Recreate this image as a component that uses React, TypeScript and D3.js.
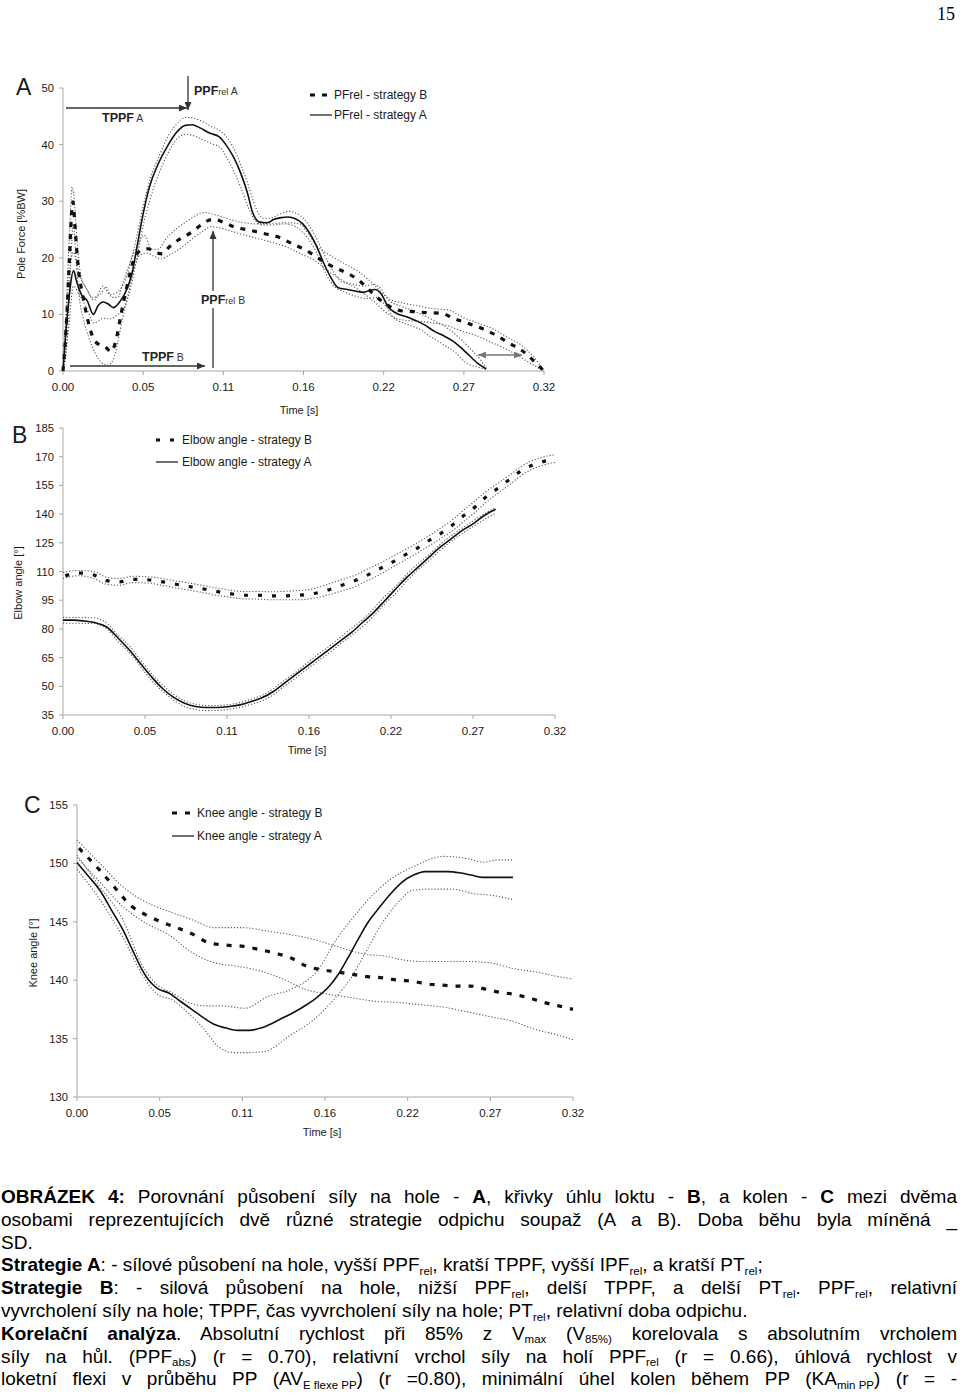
import React, { useLayoutEffect, useRef } from "react";
import * as d3 from "d3";

type P = [number, number];

// ---------- shared ----------
const timeTickLabels = ["0.00", "0.05", "0.11", "0.16", "0.22", "0.27", "0.32"];
const T_MAX = 0.325;

// ---------- Panel A: pole force [%BW] ----------
const forceTicks = [0, 10, 20, 30, 40, 50];
const forceA: P[] = [
  [0, 0], [0.003, 10], [0.0072, 17.7], [0.0091, 15.9], [0.0123, 13.6], [0.0164, 12.4], [0.0205, 10.0],
  [0.0236, 11.5], [0.0272, 12.2], [0.0308, 11.8], [0.034, 11.2], [0.038, 12.1], [0.0416, 13.6],
  [0.0465, 17.1], [0.05, 21.9], [0.0537, 27.2], [0.0585, 32.6], [0.0645, 36.7], [0.0705, 39.7],
  [0.0765, 42.1], [0.0826, 43.4], [0.0874, 43.5], [0.0922, 43.0], [0.0994, 42.0], [0.1054, 41.4],
  [0.11, 40.0], [0.115, 37.9], [0.12, 35.0], [0.1247, 31.4], [0.128, 28.1], [0.133, 26.3],
  [0.138, 26.2], [0.1427, 26.8], [0.1476, 27.1], [0.152, 27.2], [0.157, 26.9], [0.162, 26.0],
  [0.1668, 24.3], [0.1716, 21.9], [0.1764, 18.9], [0.181, 16.5], [0.186, 14.7], [0.192, 14.4],
  [0.198, 14.1], [0.203, 13.9], [0.2077, 14.3], [0.211, 14.4], [0.215, 13.6], [0.22, 11.2],
  [0.2246, 10.3], [0.234, 9.4], [0.244, 8.2], [0.251, 7.0], [0.258, 6.1], [0.2655, 4.9],
  [0.2727, 3.2], [0.28, 1.4], [0.286, 0.36],
];
const forceAUpper: P[] = [
  [0, 0], [0.003, 13], [0.007, 21], [0.011, 17], [0.016, 14.5], [0.021, 12.5], [0.027, 15], [0.032, 13.5],
  [0.037, 14], [0.042, 16], [0.046, 19.5], [0.05, 24], [0.054, 29], [0.059, 34], [0.065, 38], [0.071, 41.5],
  [0.077, 43.7], [0.083, 44.8], [0.089, 44.6], [0.095, 44], [0.1, 43.2], [0.106, 42.5], [0.11, 41.5],
  [0.115, 39.5], [0.12, 36.5], [0.125, 33], [0.13, 29], [0.135, 27], [0.14, 27], [0.147, 27.8],
  [0.153, 28.2], [0.158, 27.8], [0.163, 26.8], [0.168, 25], [0.173, 22.5], [0.178, 19.8], [0.183, 17.5],
  [0.188, 15.8], [0.195, 15.4], [0.203, 15], [0.21, 15.3], [0.215, 14.5], [0.22, 12.5], [0.228, 11.5],
  [0.238, 10.5], [0.25, 9], [0.26, 7.5], [0.268, 5.8], [0.275, 4], [0.282, 2], [0.286, 0.5],
];
const forceALower: P[] = [
  [0, 0], [0.004, 8], [0.007, 15], [0.011, 13.5], [0.016, 11], [0.021, 8.5], [0.027, 9.3], [0.032, 9.2],
  [0.037, 10], [0.042, 11.5], [0.046, 15], [0.05, 20], [0.054, 25.5], [0.059, 30.5], [0.065, 35],
  [0.071, 38.5], [0.077, 41], [0.083, 41.8], [0.089, 41.5], [0.095, 40.8], [0.1, 40.2], [0.106, 39.5],
  [0.11, 38], [0.115, 35.5], [0.12, 32.5], [0.125, 29], [0.13, 26.5], [0.135, 25.8], [0.142, 25.8],
  [0.15, 26], [0.157, 25.5], [0.162, 24.5], [0.168, 22.5], [0.173, 20], [0.178, 17], [0.183, 15],
  [0.19, 14], [0.198, 13.2], [0.205, 12.8], [0.212, 13], [0.218, 11.5], [0.223, 9.5], [0.23, 8.5],
  [0.24, 7.5], [0.25, 5.8], [0.258, 4.5], [0.265, 3.3], [0.272, 1.5], [0.28, 0.7], [0.286, 0.3],
];
const forceB: P[] = [
  [0, 0], [0.0014, 4.6], [0.0026, 10], [0.0043, 19.5], [0.0055, 26.6], [0.0067, 29.9], [0.008, 26],
  [0.0091, 21.9], [0.0108, 17.1], [0.0132, 13.6], [0.0164, 9.4], [0.0205, 5.8], [0.0248, 4.6],
  [0.0284, 4.3], [0.0325, 3.4], [0.0356, 5.2], [0.0392, 10], [0.043, 14.7], [0.0477, 19.5],
  [0.0525, 21.3], [0.0573, 21.6], [0.062, 21], [0.067, 20.7], [0.0717, 21.9], [0.0777, 23.1],
  [0.0838, 24], [0.0898, 25.1], [0.0958, 26.3], [0.1018, 26.8], [0.109, 26.2], [0.1163, 25.4],
  [0.1259, 24.9], [0.1355, 24.3], [0.1451, 23.7], [0.1548, 22.5], [0.1644, 21.3], [0.1716, 20.1],
  [0.1788, 18.9], [0.186, 18], [0.1933, 17.1], [0.2005, 15.9], [0.2077, 14.1], [0.215, 12.4],
  [0.2222, 11.2], [0.2294, 10.6], [0.2366, 10.5], [0.2462, 10.3], [0.2559, 10.2], [0.263, 9.4],
  [0.2727, 8.5], [0.2823, 7.6], [0.292, 6.4], [0.3016, 4.9], [0.3112, 3.4], [0.3184, 1.7], [0.325, 0],
];
const forceBUpper: P[] = [
  [0, 0], [0.002, 10], [0.0045, 25], [0.0062, 32.5], [0.008, 29], [0.0095, 23], [0.012, 17], [0.016, 14.5],
  [0.02, 13], [0.025, 13.5], [0.029, 14.8], [0.033, 13], [0.037, 13], [0.041, 16], [0.045, 19], [0.05, 22],
  [0.055, 24], [0.06, 21.5], [0.064, 21.5], [0.07, 23.5], [0.077, 25.2], [0.084, 26.5], [0.09, 27.5],
  [0.096, 28], [0.1, 27.8], [0.11, 27], [0.12, 26.3], [0.13, 26], [0.14, 26], [0.15, 26.2], [0.16, 26],
  [0.165, 24.5], [0.172, 22], [0.18, 20.5], [0.19, 19], [0.2, 17.5], [0.207, 16], [0.213, 14.5],
  [0.22, 12.8], [0.23, 12], [0.24, 11.5], [0.25, 11], [0.26, 10.8], [0.27, 9.5], [0.28, 8.5], [0.29, 7.5],
  [0.3, 6], [0.31, 4.5], [0.318, 2.5], [0.325, 0],
];
const forceBLower: P[] = [
  [0, 0], [0.003, 6], [0.005, 18], [0.007, 26], [0.009, 19], [0.011, 13], [0.014, 9], [0.018, 5.5],
  [0.022, 3], [0.026, 1.5], [0.03, 1], [0.034, 2], [0.037, 5], [0.04, 9], [0.044, 13.5], [0.048, 18],
  [0.052, 20.5], [0.057, 20.8], [0.062, 20.2], [0.066, 19.8], [0.072, 20.5], [0.08, 21.8], [0.088, 23.5],
  [0.095, 24.8], [0.1, 25.5], [0.11, 25], [0.12, 24.2], [0.13, 23.5], [0.14, 22.8], [0.15, 22],
  [0.16, 20.8], [0.17, 19.5], [0.18, 17.5], [0.19, 15.8], [0.2, 14.3], [0.21, 12.3], [0.22, 10],
  [0.23, 9], [0.24, 8.8], [0.25, 8.5], [0.26, 8], [0.27, 7], [0.28, 6.2], [0.29, 5], [0.3, 3.8],
  [0.31, 2.3], [0.318, 1], [0.325, 0],
];

// ---------- Panel B: elbow angle [deg] ----------
const elbowTicks = [35, 50, 65, 80, 95, 110, 125, 140, 155, 170, 185];
const elbowA: P[] = [
  [0, 84.6], [0.0069, 84.6], [0.0142, 84.1], [0.0215, 83.2], [0.0289, 81], [0.0362, 75.4], [0.0436, 69.2],
  [0.0509, 62.2], [0.0582, 55.2], [0.0656, 49], [0.0729, 44.3], [0.0803, 41.1], [0.0876, 39.4],
  [0.095, 38.9], [0.1023, 38.9], [0.1096, 39.4], [0.117, 40.3], [0.1243, 42], [0.1317, 44.1],
  [0.139, 47.3], [0.1463, 51.7], [0.1537, 56.1], [0.161, 60.4], [0.1684, 64.8], [0.1757, 69.2],
  [0.183, 73.6], [0.1904, 78], [0.1977, 83.2], [0.2051, 88.5], [0.2124, 94.6], [0.2197, 100.8],
  [0.2271, 106.9], [0.2344, 112.2], [0.2418, 117.5], [0.2491, 122.7], [0.2564, 127.1], [0.2638, 131.5],
  [0.2711, 135], [0.2785, 139.4], [0.2858, 142.5],
];
const elbowAUpper: P[] = [
  [0, 86], [0.02, 85.8], [0.029, 83], [0.036, 77], [0.044, 71], [0.051, 64], [0.058, 57], [0.066, 50.5],
  [0.073, 45.8], [0.08, 42.5], [0.088, 40.6], [0.095, 40], [0.102, 40], [0.11, 40.5], [0.117, 41.5],
  [0.124, 43.2], [0.132, 45.5], [0.139, 48.8], [0.146, 53], [0.154, 57.5], [0.161, 62], [0.168, 66.5],
  [0.176, 71], [0.183, 75.5], [0.19, 80], [0.198, 85], [0.205, 90.5], [0.212, 96.5], [0.22, 102.5],
  [0.227, 108.5], [0.234, 113.8], [0.242, 119], [0.249, 124], [0.256, 128.5], [0.264, 132.8],
  [0.271, 136.5], [0.279, 140.5], [0.286, 143.5],
];
const elbowALower: P[] = [
  [0, 83], [0.02, 82.8], [0.029, 80], [0.036, 73.8], [0.044, 67.5], [0.051, 60.5], [0.058, 53.5],
  [0.066, 47.3], [0.073, 42.8], [0.08, 39.5], [0.088, 37.8], [0.095, 37.3], [0.102, 37.4], [0.11, 38],
  [0.117, 39], [0.124, 40.5], [0.132, 42.6], [0.139, 45.6], [0.146, 50], [0.154, 54.5], [0.161, 58.8],
  [0.168, 63], [0.176, 67.5], [0.183, 72], [0.19, 76.3], [0.198, 81.3], [0.205, 86.5], [0.212, 92.7],
  [0.22, 98.8], [0.227, 105], [0.234, 110.5], [0.242, 115.8], [0.249, 121], [0.256, 125.5], [0.264, 130],
  [0.271, 133.5], [0.279, 137.5], [0.286, 140.5],
];
const elbowB: P[] = [
  [0.0015, 107.8], [0.0105, 109.2], [0.0203, 108.2], [0.0289, 105.2], [0.0374, 104.6], [0.046, 105.9],
  [0.0558, 105.7], [0.0644, 104.8], [0.0741, 103.4], [0.0827, 102.2], [0.0913, 101.1], [0.1011, 99.6],
  [0.1096, 98.5], [0.1194, 97.6], [0.128, 97.6], [0.1378, 97.3], [0.1463, 97.3], [0.1549, 97.6],
  [0.1635, 98.2], [0.1733, 99.9], [0.1818, 102.2], [0.1916, 104.8], [0.2002, 107.8], [0.2088, 111.3],
  [0.2173, 114.8], [0.2259, 118.7], [0.2344, 122.4], [0.2418, 126.2], [0.2503, 130.3], [0.2577, 134.6],
  [0.265, 139.4], [0.2724, 143.8], [0.279, 148.7], [0.2871, 153.4], [0.2945, 157.8], [0.3018, 162.2],
  [0.3104, 165.7], [0.319, 167.8], [0.325, 168.7],
];
const elbowBUpper: P[] = [
  [0, 109.5], [0.01, 110.5], [0.02, 110], [0.029, 107], [0.037, 106.3], [0.046, 107.5], [0.056, 107.3],
  [0.064, 106.5], [0.074, 105.2], [0.083, 104], [0.091, 102.9], [0.101, 101.4], [0.11, 100.3],
  [0.119, 99.5], [0.128, 99.6], [0.138, 99.4], [0.146, 99.6], [0.155, 100], [0.164, 100.8],
  [0.173, 102.8], [0.182, 105.2], [0.192, 107.8], [0.2, 110.8], [0.209, 114.2], [0.217, 117.6],
  [0.226, 121.4], [0.234, 125], [0.242, 128.8], [0.25, 133], [0.258, 137.5], [0.265, 142.3],
  [0.272, 146.8], [0.279, 151.5], [0.287, 156], [0.295, 160.3], [0.302, 164.5], [0.31, 168],
  [0.319, 170.2], [0.325, 171],
];
const elbowBLower: P[] = [
  [0, 106.3], [0.01, 107.8], [0.02, 106.5], [0.029, 103.3], [0.037, 102.8], [0.046, 104.2], [0.056, 104],
  [0.064, 103], [0.074, 101.5], [0.083, 100.3], [0.091, 99.2], [0.101, 97.6], [0.11, 96.6], [0.119, 95.7],
  [0.128, 95.6], [0.138, 95.2], [0.146, 95.2], [0.155, 95.2], [0.164, 95.8], [0.173, 97.3], [0.182, 99.3],
  [0.192, 101.8], [0.2, 104.8], [0.209, 108.3], [0.217, 112], [0.226, 116], [0.234, 119.7],
  [0.242, 123.5], [0.25, 127.5], [0.258, 131.7], [0.265, 136.3], [0.272, 140.8], [0.279, 145.8],
  [0.287, 150.8], [0.295, 155.3], [0.302, 159.8], [0.31, 163.5], [0.319, 166], [0.325, 167],
];

// ---------- Panel C: knee angle [deg] ----------
const kneeTicks = [130, 135, 140, 145, 150, 155];
const kneeA: P[] = [
  [0, 150.07], [0.0075, 148.9], [0.015, 147.7], [0.0226, 146.0], [0.0301, 144.3], [0.0363, 142.6],
  [0.0426, 140.9], [0.0476, 139.9], [0.0526, 139.3], [0.0601, 138.9], [0.0677, 138.2], [0.0752, 137.5],
  [0.0827, 136.8], [0.0902, 136.2], [0.0977, 135.9], [0.1052, 135.7], [0.1128, 135.7], [0.1203, 135.9],
  [0.1278, 136.3], [0.1353, 136.8], [0.1428, 137.3], [0.1504, 137.9], [0.1579, 138.6], [0.1654, 139.5],
  [0.1717, 140.6], [0.1779, 142.0], [0.1842, 143.5], [0.1904, 144.9], [0.198, 146.2], [0.2055, 147.4],
  [0.213, 148.4], [0.2205, 149.0], [0.228, 149.3], [0.2355, 149.3], [0.2431, 149.3], [0.2506, 149.2],
  [0.2581, 149.0], [0.2656, 148.8], [0.2731, 148.8], [0.2857, 148.8],
];
const kneeAUpper: P[] = [
  [0, 150.7], [0.015, 148], [0.03, 145.2], [0.0426, 141.3], [0.0526, 139.6], [0.0626, 138.9],
  [0.075, 138.0], [0.085, 137.8], [0.095, 137.8], [0.11, 137.6], [0.125, 138.6], [0.14, 139.2],
  [0.158, 140.9], [0.17, 143.5], [0.183, 145.7], [0.193, 147.2], [0.205, 148.6], [0.22, 149.7],
  [0.24, 150.6], [0.256, 150.4], [0.266, 150.1], [0.276, 150.3], [0.286, 150.3],
];
const kneeALower: P[] = [
  [0, 149.5], [0.015, 146.9], [0.03, 143.7], [0.0426, 140.5], [0.0526, 138.8], [0.0626, 138.3],
  [0.0727, 137.2], [0.0827, 135.9], [0.0927, 134.3], [0.1027, 133.8], [0.1128, 133.8], [0.123, 133.9],
  [0.14, 135.3], [0.155, 136.6], [0.168, 138.3], [0.18, 140.3], [0.19, 142.6], [0.2, 144.9],
  [0.21, 146.6], [0.22, 147.7], [0.23, 147.8], [0.2456, 147.8], [0.26, 147.4], [0.27, 147.3], [0.2857, 146.9],
];
const kneeB: P[] = [
  [0.0013, 151.3], [0.015, 149.4], [0.025, 147.9], [0.0351, 146.4], [0.0451, 145.6], [0.0551, 145.0],
  [0.0652, 144.5], [0.0764, 143.9], [0.0865, 143.2], [0.0977, 143.0], [0.109, 142.9], [0.1203, 142.6],
  [0.1303, 142.3], [0.1403, 141.9], [0.1504, 141.2], [0.1604, 140.9], [0.1704, 140.7], [0.1804, 140.5],
  [0.1904, 140.3], [0.2005, 140.2], [0.2105, 140.0], [0.2205, 139.9], [0.228, 139.7], [0.238, 139.6],
  [0.248, 139.5], [0.2581, 139.5], [0.2656, 139.3], [0.2756, 139.0], [0.2857, 138.8], [0.2957, 138.5],
  [0.3057, 138.1], [0.3157, 137.8], [0.325, 137.5],
];
const kneeBUpper: P[] = [
  [0, 152], [0.015, 150.0], [0.03, 148.0], [0.045, 146.7], [0.06, 145.9], [0.075, 145.2], [0.09, 144.5],
  [0.108, 144.5], [0.125, 144.2], [0.14, 143.9], [0.155, 143.5], [0.17, 142.9], [0.19, 142.2],
  [0.2, 142.1], [0.2155, 141.7], [0.2255, 141.6], [0.24, 141.6], [0.2556, 141.6], [0.27, 141.5],
  [0.2857, 141.0], [0.3007, 140.7], [0.3157, 140.3], [0.325, 140.1],
];
const kneeBLower: P[] = [
  [0, 150.5], [0.015, 148.4], [0.03, 146.3], [0.045, 144.9], [0.06, 143.9], [0.075, 142.4], [0.09, 141.5],
  [0.105, 141.2], [0.12, 140.8], [0.135, 140.1], [0.15, 139.2], [0.165, 138.8], [0.18, 138.5],
  [0.195, 138.2], [0.21, 138.1], [0.225, 137.9], [0.24, 137.7], [0.255, 137.3], [0.27, 136.9],
  [0.285, 136.5], [0.3, 135.8], [0.315, 135.3], [0.325, 134.9],
];

// ---------- caption ----------
type Seg = { t: string; b?: boolean; sub?: boolean };
const captionLines: Seg[][] = [
  [{ t: "OBRÁZEK 4:", b: true }, { t: " Porovnání působení síly na hole - " }, { t: "A", b: true },
   { t: ", křivky úhlu loktu - " }, { t: "B", b: true }, { t: ", a kolen - " }, { t: "C", b: true }, { t: " mezi dvěma" }],
  [{ t: "osobami reprezentujících dvě různé strategie odpichu soupaž (A a B). Doba běhu byla míněná _" }],
  [{ t: "SD." }],
  [{ t: "Strategie A", b: true }, { t: ": - sílové působení na hole, vyšší PPF" }, { t: "rel", sub: true },
   { t: ", kratší TPPF, vyšší IPF" }, { t: "rel", sub: true }, { t: ", a kratší PT" }, { t: "rel", sub: true }, { t: ";" }],
  [{ t: "Strategie B", b: true }, { t: ": - silová působení na hole, nižší PPF" }, { t: "rel", sub: true },
   { t: ", delší TPPF, a delší PT" }, { t: "rel", sub: true }, { t: ". PPF" }, { t: "rel", sub: true }, { t: ", relativní" }],
  [{ t: "vyvrcholení síly na hole; TPPF, čas vyvrcholení síly na hole; PT" }, { t: "rel", sub: true },
   { t: ", relativní doba odpichu." }],
  [{ t: "Korelační analýza", b: true }, { t: ". Absolutní rychlost při 85% z V" }, { t: "max", sub: true },
   { t: " (V" }, { t: "85%)", sub: true }, { t: " korelovala s absolutním vrcholem" }],
  [{ t: "síly na hůl. (PPF" }, { t: "abs", sub: true }, { t: ") (r = 0.70), relativní vrchol síly na holí PPF" },
   { t: "rel", sub: true }, { t: " (r = 0.66), úhlová rychlost v" }],
  [{ t: "loketní flexi v průběhu PP (AV" }, { t: "E flexe PP", sub: true }, { t: ") (r =0.80), minimální úhel kolen během PP (KA" },
   { t: "min PP", sub: true }, { t: ") (r = -" }],
];
// target right edge of each caption line (0 = left-aligned, not justified)
const captionWidths = [957, 957, 0, 0, 957, 0, 957, 957, 957];

const FONT = "'Liberation Sans', Arial, Helvetica, sans-serif";
const AXIS_COLOR = "#a8a8a8";
const TEXT_COLOR = "#1a1a1a";

type Band = { mean: P[]; upper: P[]; lower: P[] };
type PanelCfg = {
  letter: string;
  letterPos: [number, number];
  xRange: [number, number];
  yRange: [number, number];
  yDomain: [number, number];
  yTicks: number[];
  yTitle: string;
  yTitlePos: [number, number];
  xTitlePos: [number, number];
  stratA: Band;
  stratB: Band;
  dashB: string;
  legend: { x: number; y1: number; y2: number; textX: number; labelB: string; labelA: string };
};

function Panel({ cfg }: { cfg: PanelCfg }) {
  const x = d3.scaleLinear().domain([0, T_MAX]).range(cfg.xRange);
  const y = d3.scaleLinear().domain(cfg.yDomain).range(cfg.yRange);
  const line = d3
    .line<P>()
    .x((d) => x(d[0]))
    .y((d) => y(d[1]))
    .curve(d3.curveMonotoneX);
  const xTicks = timeTickLabels.map((_, i) => (i * T_MAX) / (timeTickLabels.length - 1));
  const [x0, x1] = cfg.xRange;
  const yBase = cfg.yRange[0];
  const dotted = { fill: "none", stroke: "#5a5a5a", strokeWidth: 1.1, strokeDasharray: "1.2,1.9" };
  const lg = cfg.legend;
  return (
    <g>
      <text x={cfg.letterPos[0]} y={cfg.letterPos[1]} fontSize={23} fontFamily={FONT} fill={TEXT_COLOR}>
        {cfg.letter}
      </text>
      {/* axes */}
      <line x1={x0} x2={x0} y1={cfg.yRange[1]} y2={yBase} stroke={AXIS_COLOR} strokeWidth={1} />
      <line x1={x0} x2={x1} y1={yBase} y2={yBase} stroke={AXIS_COLOR} strokeWidth={1} />
      {cfg.yTicks.map((v) => (
        <g key={"yt" + v}>
          <line x1={x0 - 4} x2={x0} y1={y(v)} y2={y(v)} stroke={AXIS_COLOR} />
          <text x={x0 - 9} y={y(v) + 4} textAnchor="end" fontSize={11.2} fontFamily={FONT} fill={TEXT_COLOR}>
            {v}
          </text>
        </g>
      ))}
      {xTicks.map((t, i) => (
        <g key={"xt" + i}>
          <line x1={x(t)} x2={x(t)} y1={yBase} y2={yBase + 4} stroke={AXIS_COLOR} />
          <text x={x(t)} y={yBase + 20} textAnchor="middle" fontSize={11.5} fontFamily={FONT} fill={TEXT_COLOR}>
            {timeTickLabels[i]}
          </text>
        </g>
      ))}
      <text x={cfg.xTitlePos[0]} y={cfg.xTitlePos[1]} textAnchor="middle" fontSize={11} fontFamily={FONT} fill={TEXT_COLOR}>
        Time [s]
      </text>
      <text
        transform={`translate(${cfg.yTitlePos[0]},${cfg.yTitlePos[1]}) rotate(-90)`}
        textAnchor="middle"
        fontSize={11}
        fontFamily={FONT}
        fill={TEXT_COLOR}
        dy={4}
      >
        {cfg.yTitle}
      </text>
      {/* SD bands */}
      <path d={line(cfg.stratB.upper) || ""} {...dotted} />
      <path d={line(cfg.stratB.lower) || ""} {...dotted} />
      <path d={line(cfg.stratA.upper) || ""} {...dotted} />
      <path d={line(cfg.stratA.lower) || ""} {...dotted} />
      {/* means */}
      <path d={line(cfg.stratA.mean) || ""} fill="none" stroke="#111" strokeWidth={1.6} />
      <path d={line(cfg.stratB.mean) || ""} fill="none" stroke="#111" strokeWidth={3.2} strokeDasharray={cfg.dashB} />
      {/* legend */}
      <line x1={lg.x} x2={lg.x + 19} y1={lg.y1} y2={lg.y1} stroke="#111" strokeWidth={3.2} strokeDasharray={cfg.dashB} />
      <text x={lg.textX} y={lg.y1 + 4} fontSize={12} fontFamily={FONT} fill={TEXT_COLOR}>
        {lg.labelB}
      </text>
      <line x1={lg.x} x2={lg.x + 22} y1={lg.y2} y2={lg.y2} stroke="#111" strokeWidth={1.2} />
      <text x={lg.textX} y={lg.y2 + 4} fontSize={12} fontFamily={FONT} fill={TEXT_COLOR}>
        {lg.labelA}
      </text>
    </g>
  );
}

function Caption() {
  const baseY = 1203;
  const lh = 22.8;
  const left = 1;
  const refs = useRef<(SVGTextElement | null)[]>([]);
  useLayoutEffect(() => {
    captionLines.forEach((segs, li) => {
      const el = refs.current[li];
      const target = captionWidths[li];
      if (!el || !target) return;
      el.style.wordSpacing = "0px";
      const natural = el.getComputedTextLength();
      const spaces = segs.filter((s) => !s.sub).reduce((n, s) => n + (s.t.match(/ /g) || []).length, 0);
      const extra = target - left - natural;
      if (spaces > 0) el.style.wordSpacing = `${extra / spaces}px`;
    });
  }, []);
  return (
    <g fontFamily={FONT} fontSize={19} fill="#000">
      {captionLines.map((segs, li) => {
        let inSub = false;
        const kids = segs.map((s, si) => {
          let dy = 0;
          if (s.sub && !inSub) dy = 3.5;
          if (!s.sub && inSub) dy = -3.5;
          inSub = !!s.sub;
          return (
            <tspan
              key={si}
              dy={dy || undefined}
              fontWeight={s.b ? "bold" : "normal"}
              fontSize={s.sub ? 11.5 : 19}
              style={s.sub ? { wordSpacing: "0px" } : undefined}
            >
              {s.t}
            </tspan>
          );
        });
        return (
          <text key={li} ref={(el) => { refs.current[li] = el; }} x={left} y={baseY + li * lh}>
            {kids}
          </text>
        );
      })}
    </g>
  );
}

function Arrow({ x1, y1, x2, y2, both, color }: { x1: number; y1: number; x2: number; y2: number; both?: boolean; color?: string }) {
  const c = color || "#333";
  const id = color ? "ahGrey" : "ah";
  return (
    <line
      x1={x1}
      y1={y1}
      x2={x2}
      y2={y2}
      stroke={c}
      strokeWidth={1.3}
      markerEnd={`url(#${id})`}
      markerStart={both ? `url(#${id})` : undefined}
    />
  );
}

function PanelAAnnotations() {
  const bold = { fontFamily: FONT, fontWeight: "bold" as const, fontSize: 12.5, fill: "#222" };
  const small = { fontFamily: FONT, fontWeight: "normal" as const, fontSize: 10.5, fill: "#333" };
  return (
    <g>
      <Arrow x1={66} y1={108} x2={187} y2={108} />
      <text x={102} y={122}>
        <tspan {...bold}>TPPF</tspan>
        <tspan {...small}> A</tspan>
      </text>
      <Arrow x1={188} y1={76} x2={188} y2={110} />
      <text x={194} y={95}>
        <tspan {...bold}>PPF</tspan>
        <tspan {...small} fontSize={9}>rel</tspan>
        <tspan {...small}> A</tspan>
      </text>
      <Arrow x1={213} y1={368} x2={213} y2={231} />
      <rect x={199} y={291} width={48} height={17} fill="#fff" />
      <text x={201} y={304}>
        <tspan {...bold}>PPF</tspan>
        <tspan {...small} fontSize={9}>rel</tspan>
        <tspan {...small}> B</tspan>
      </text>
      <Arrow x1={70} y1={366} x2={205} y2={366} />
      <text x={142} y={361}>
        <tspan {...bold}>TPPF</tspan>
        <tspan {...small}> B</tspan>
      </text>
      <Arrow x1={478} y1={355} x2={522} y2={355} both color="#777" />
    </g>
  );
}

const panels: PanelCfg[] = [
  {
    letter: "A",
    letterPos: [16, 95],
    xRange: [63, 544],
    yRange: [371, 88],
    yDomain: [0, 50],
    yTicks: forceTicks,
    yTitle: "Pole Force [%BW]",
    yTitlePos: [21, 234],
    xTitlePos: [299, 414],
    stratA: { mean: forceA, upper: forceAUpper, lower: forceALower },
    stratB: { mean: forceB, upper: forceBUpper, lower: forceBLower },
    dashB: "5,7",
    legend: { x: 310, y1: 95, y2: 115, textX: 334, labelB: "PFrel - strategy B", labelA: "PFrel - strategy A" },
  },
  {
    letter: "B",
    letterPos: [12, 443],
    xRange: [63, 555],
    yRange: [715, 428],
    yDomain: [35, 185],
    yTicks: elbowTicks,
    yTitle: "Elbow angle [°]",
    yTitlePos: [18, 583],
    xTitlePos: [307, 754],
    stratA: { mean: elbowA, upper: elbowAUpper, lower: elbowALower },
    stratB: { mean: elbowB, upper: elbowBUpper, lower: elbowBLower },
    dashB: "4,10",
    legend: { x: 156, y1: 440, y2: 462, textX: 182, labelB: "Elbow angle - strategy B", labelA: "Elbow angle - strategy A" },
  },
  {
    letter: "C",
    letterPos: [24, 813],
    xRange: [77, 573],
    yRange: [1097, 805],
    yDomain: [130, 155],
    yTicks: kneeTicks,
    yTitle: "Knee angle [°]",
    yTitlePos: [33, 953],
    xTitlePos: [322, 1136],
    stratA: { mean: kneeA, upper: kneeAUpper, lower: kneeALower },
    stratB: { mean: kneeB, upper: kneeBUpper, lower: kneeBLower },
    dashB: "5,8",
    legend: { x: 172, y1: 813, y2: 836, textX: 197, labelB: "Knee angle - strategy B", labelA: "Knee angle - strategy A" },
  },
];

export default function App() {
  return (
    <svg
      width={960}
      height={1399}
      viewBox="0 0 960 1399"
      style={{ position: "absolute", left: 0, top: 0, background: "#fff" }}
    >
      <defs>
        <marker id="ah" markerWidth={8} markerHeight={7} refX={8} refY={3.5} orient="auto-start-reverse" markerUnits="userSpaceOnUse">
          <path d="M0,0 L8,3.5 L0,7 z" fill="#333" />
        </marker>
        <marker id="ahGrey" markerWidth={8} markerHeight={7} refX={8} refY={3.5} orient="auto-start-reverse" markerUnits="userSpaceOnUse">
          <path d="M0,0 L8,3.5 L0,7 z" fill="#777" />
        </marker>
      </defs>
      <rect x={0} y={0} width={960} height={1399} fill="#fff" />
      <text x={955} y={20} textAnchor="end" fontSize={18} fontFamily="'Liberation Serif', 'Times New Roman', serif" fill="#000">
        15
      </text>
      {panels.map((p) => (
        <Panel key={p.letter} cfg={p} />
      ))}
      <PanelAAnnotations />
      <Caption />
    </svg>
  );
}
